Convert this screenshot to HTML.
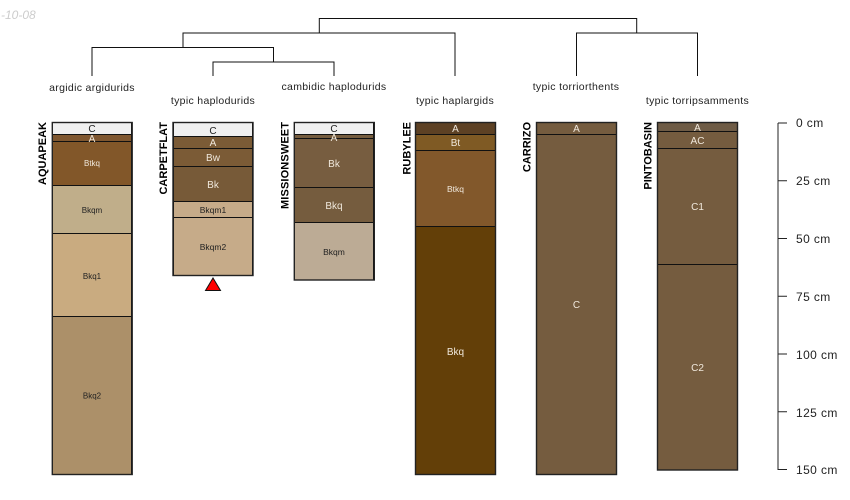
<!DOCTYPE html>
<html><head><meta charset="utf-8"><style>
html,body{margin:0;padding:0;background:#fff}
svg{display:block}
text{font-family:"Liberation Sans",sans-serif}
.l{font-size:10.5px;fill:#222;text-anchor:middle;letter-spacing:.32px}
.w{fill:#f0e8dc;text-anchor:middle}
.d{fill:#222;text-anchor:middle}
.n{font-size:11px;font-weight:bold;fill:#000;text-anchor:end}
.a{font-size:12px;fill:#222;letter-spacing:.4px}
rect{stroke:#111;stroke-width:1}
rect.o{fill:none;stroke:#222;stroke-width:1.4}
</style></head><body>
<svg width="850" height="500" viewBox="0 0 850 500" xmlns="http://www.w3.org/2000/svg">
<text x="1" y="19" font-size="12" fill="#ccc" font-style="italic">-10-08</text>
<g fill="none" stroke="#111" stroke-width="1">
<path d="M183 47V33H455V76"/>
<path d="M319.300 33V18.500H636.700V33"/>
<path d="M92 76V47.500H273.500V62"/>
<path d="M213 76V62H334V76"/>
<path d="M576.500 76V33H697.500V76"/>
</g>
<text class="l" x="92" y="91">argidic argidurids</text>
<text class="l" x="213" y="104">typic haplodurids</text>
<text class="l" x="334" y="90">cambidic haplodurids</text>
<text class="l" x="455" y="104">typic haplargids</text>
<text class="l" x="576" y="90">typic torriorthents</text>
<text class="l" x="697.500" y="104">typic torripsamments</text>

<!-- AQUAPEAK -->
<rect x="52.500" y="122.500" width="79" height="12" fill="#f0f0f0"/>
<rect x="52.500" y="134.500" width="79" height="7" fill="#7f5730"/>
<rect x="52.500" y="141.500" width="79" height="44" fill="#825729"/>
<rect x="52.500" y="185.500" width="79" height="48" fill="#c0ae8a"/>
<rect x="52.500" y="233.500" width="79" height="83" fill="#c9ab80"/>
<rect x="52.500" y="316.500" width="79" height="158" fill="#ac9069"/>
<rect class="o" x="52.300" y="122.500" width="79.900" height="352"/>
<text class="n" transform="translate(46,122) rotate(-90)">AQUAPEAK</text>
<text class="d" x="92" y="132" font-size="10">C</text>
<text class="w" x="92" y="142" font-size="10">A</text>
<text class="w" x="92" y="166" font-size="8">Btkq</text>
<text class="d" x="92" y="213" font-size="8">Bkqm</text>
<text class="d" x="92" y="279" font-size="8">Bkq1</text>
<text class="d" x="92" y="398.500" font-size="8">Bkq2</text>

<!-- CARPETFLAT -->
<rect x="173.500" y="122.500" width="79" height="14" fill="#f0f0f0"/>
<rect x="173.500" y="136.500" width="79" height="12" fill="#7b5b36"/>
<rect x="173.500" y="148.500" width="79" height="18" fill="#7b5b36"/>
<rect x="173.500" y="166.500" width="79" height="35" fill="#775a38"/>
<rect x="173.500" y="201.500" width="79" height="16" fill="#c6ab89"/>
<rect x="173.500" y="217.500" width="79" height="58" fill="#c6ab89"/>
<rect class="o" x="173" y="122.500" width="80" height="153"/>
<text class="n" transform="translate(167,122) rotate(-90)">CARPETFLAT</text>
<text class="d" x="213" y="134" font-size="10">C</text>
<text class="w" x="213" y="146" font-size="10">A</text>
<text class="w" x="213" y="161" font-size="10">Bw</text>
<text class="w" x="213" y="188" font-size="10">Bk</text>
<text class="d" x="213" y="213" font-size="8.500">Bkqm1</text>
<text class="d" x="213" y="250" font-size="8.500">Bkqm2</text>
<path d="M205.500 290.500L213 278L220.500 290.500Z" fill="#f00" stroke="#111" stroke-width="1"/>

<!-- MISSIONSWEET -->
<rect x="294.500" y="122.500" width="79" height="12" fill="#f0f0f0"/>
<rect x="294.500" y="134.500" width="79" height="4" fill="#755c3e"/>
<rect x="294.500" y="138.500" width="79" height="49" fill="#775d40"/>
<rect x="294.500" y="187.500" width="79" height="35" fill="#755c3e"/>
<rect x="294.500" y="222.500" width="79" height="57.500" fill="#bcab95"/>
<rect class="o" x="294.300" y="122.500" width="80" height="157.500"/>
<text class="n" transform="translate(288.500,122) rotate(-90)" textLength="87">MISSIONSWEET</text>
<text class="d" x="334" y="132" font-size="10">C</text>
<text class="w" x="334" y="141" font-size="10">A</text>
<text class="w" x="334" y="167" font-size="10">Bk</text>
<text class="w" x="334" y="209" font-size="10">Bkq</text>
<text class="d" x="334" y="255" font-size="8.500">Bkqm</text>

<!-- RUBYLEE -->
<rect x="415.500" y="122.500" width="80" height="12" fill="#5d4124"/>
<rect x="415.500" y="134.500" width="80" height="16" fill="#7f5a24"/>
<rect x="415.500" y="150.500" width="80" height="76" fill="#82582b"/>
<rect x="415.500" y="226.500" width="80" height="248" fill="#633f08"/>
<rect class="o" x="415.500" y="122.500" width="80" height="352"/>
<text class="n" transform="translate(410.500,122) rotate(-90)">RUBYLEE</text>
<text class="w" x="455.500" y="132" font-size="10">A</text>
<text class="w" x="455.500" y="146" font-size="10">Bt</text>
<text class="w" x="455.500" y="192" font-size="8.500">Btkq</text>
<text class="w" x="455.500" y="355" font-size="10">Bkq</text>

<!-- CARRIZO -->
<rect x="536.500" y="122.500" width="80" height="12" fill="#755c3f"/>
<rect x="536.500" y="134.500" width="80" height="340" fill="#755c3f"/>
<rect class="o" x="536.500" y="122.500" width="80" height="352"/>
<text class="n" transform="translate(530.500,122) rotate(-90)">CARRIZO</text>
<text class="w" x="576.500" y="132" font-size="10">A</text>
<text class="w" x="576.500" y="308" font-size="10">C</text>

<!-- PINTOBASIN -->
<rect x="657.500" y="122.500" width="80" height="9" fill="#6f5c46"/>
<rect x="657.500" y="131.500" width="80" height="17" fill="#755c3f"/>
<rect x="657.500" y="148.500" width="80" height="116" fill="#755c3f"/>
<rect x="657.500" y="264.500" width="80" height="205.500" fill="#755c3f"/>
<rect class="o" x="657.500" y="122.500" width="80" height="347.500"/>
<text class="n" transform="translate(651.500,122) rotate(-90)">PINTOBASIN</text>
<text class="w" x="697.500" y="131" font-size="10">A</text>
<text class="w" x="697.500" y="144" font-size="10">AC</text>
<text class="w" x="697.500" y="210" font-size="10">C1</text>
<text class="w" x="697.500" y="371" font-size="10">C2</text>

<!-- Axis -->
<path d="M778 123V470" fill="none" stroke="#222" stroke-width="1"/>
<path d="M778 123H787M778 180.750H787M778 238.500H787M778 296.250H787M778 354H787M778 411.750H787M778 469.500H787" fill="none" stroke="#222" stroke-width="1"/>
<text class="a" x="796" y="127">0 cm</text>
<text class="a" x="796" y="185">25 cm</text>
<text class="a" x="796" y="243">50 cm</text>
<text class="a" x="796" y="301">75 cm</text>
<text class="a" x="796" y="359">100 cm</text>
<text class="a" x="796" y="417">125 cm</text>
<text class="a" x="796" y="474">150 cm</text>
</svg>
</body></html>
